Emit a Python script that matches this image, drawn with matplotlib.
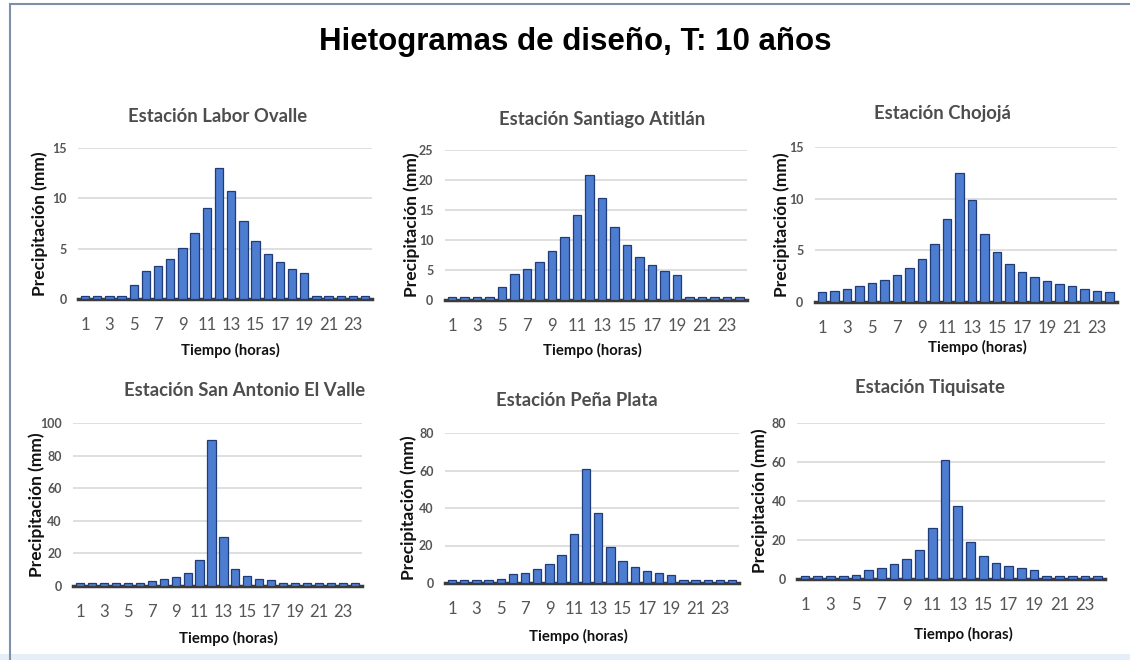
"""
Hietogramas de diseño, T: 10 años - seis estaciones
"""
import numpy as np
import matplotlib
matplotlib.use("Agg")
import matplotlib.pyplot as plt
from matplotlib.lines import Line2D
from matplotlib.patches import Rectangle

W, H = 1130, 660

horas = list(range(1, 25))

estaciones = ["Estación Labor Ovalle", "Estación Santiago Atitlán", "Estación Chojojá",
              "Estación San Antonio El Valle", "Estación Peña Plata", "Estación Tiquisate"]

labor_ovalle = [0.3, 0.3, 0.3, 0.3, 1.4, 2.8, 3.3, 4.0, 5.1, 6.6, 9.0, 13.0,
                10.7, 7.7, 5.8, 4.5, 3.7, 3.0, 2.6, 0.3, 0.3, 0.3, 0.3, 0.3]
santiago_atitlan = [0.5, 0.5, 0.5, 0.5, 2.2, 4.4, 5.2, 6.4, 8.1, 10.5, 14.2, 20.8,
                    17.0, 12.1, 9.1, 7.2, 5.8, 4.8, 4.1, 0.5, 0.5, 0.5, 0.5, 0.5]
chojoja = [1.0, 1.1, 1.3, 1.5, 1.8, 2.1, 2.6, 3.3, 4.2, 5.6, 8.0, 12.5,
           9.9, 6.6, 4.8, 3.7, 2.9, 2.4, 2.0, 1.7, 1.5, 1.3, 1.1, 1.0]
san_antonio = [1.8, 1.8, 1.8, 1.8, 1.8, 1.8, 3.0, 4.2, 5.3, 7.8, 16.0, 89.5,
               30.0, 10.5, 6.2, 4.5, 3.8, 1.8, 1.8, 1.8, 1.8, 1.8, 1.8, 1.8]
pena_plata = [1.5, 1.5, 1.5, 1.5, 2.2, 4.7, 5.6, 7.5, 10.2, 15.0, 26.0, 61.0,
              37.5, 19.0, 12.0, 8.4, 6.5, 5.5, 4.5, 1.5, 1.5, 1.5, 1.5, 1.5]
tiquisate = [1.5, 1.5, 1.5, 1.5, 2.2, 4.7, 5.6, 7.5, 10.2, 15.0, 26.0, 61.0,
             37.5, 19.0, 12.0, 8.4, 6.5, 5.5, 4.5, 1.5, 1.5, 1.5, 1.5, 1.5]

series = [labor_ovalle, santiago_atitlan, chojoja, san_antonio, pena_plata, tiquisate]
y_max = [15, 25, 15, 100, 80, 80]
y_step = [5, 5, 5, 20, 20, 20]

# posiciones en pixeles: x tick 1, x tick 23, y del maximo, y del cero
layout = [
    dict(x1=85, x23=353, ytop=148, ybot=299, title=(218, 116), xlab=(230, 350), ylab=40),
    dict(x1=452, x23=727, ytop=150, ybot=300, title=(602, 119), xlab=(592, 350), ylab=412),
    dict(x1=822, x23=1097, ytop=147, ybot=302, title=(942, 114), xlab=(977, 347), ylab=782),
    dict(x1=80, x23=343, ytop=423, ybot=586, title=(245, 390), xlab=(228, 638), ylab=37),
    dict(x1=452, x23=720, ytop=433, ybot=583, title=(577, 401), xlab=(578, 636), ylab=409),
    dict(x1=805, x23=1085, ytop=423, ybot=579, title=(930, 388), xlab=(963, 634), ylab=760),
]

FONT = ['Lato', 'DejaVu Sans']
GRIS = '#595959'

fig = plt.figure(figsize=(W / 100, H / 100), dpi=100)
fig.patch.set_facecolor('white')

# marco de la imagen
fig.add_artist(Line2D([10 / W, 10 / W], [0, 1 - 4 / H], color='#7f8fa8', lw=1.5))
fig.add_artist(Line2D([10 / W, 1], [1 - 4 / H, 1 - 4 / H], color='#7f8fa8', lw=1.5))
fig.add_artist(Rectangle((0, 0), 1, 6 / H, transform=fig.transFigure, color='#e6eef7', lw=0))

fig.text(575 / W, 1 - 42 / H, "Hietogramas de diseño, T: 10 años", ha='center', va='center',
         fontsize=22.5, fontweight='bold', family=['Liberation Sans', 'DejaVu Sans'])

for i, datos in enumerate(series):
    L = layout[i]
    s = (L['x23'] - L['x1']) / 22.0
    left = L['x1'] - 0.6 * s
    right = L['x23'] + 1.6 * s
    ax = fig.add_axes([left / W, 1 - L['ybot'] / H, (right - left) / W, (L['ybot'] - L['ytop']) / H])

    ax.set_xlim(0.4, 24.6)
    ax.set_ylim(0, y_max[i])
    ax.set_yticks(np.arange(0, y_max[i] + 1, y_step[i]))
    ax.yaxis.grid(True, color='#d9d9d9', lw=1.2)
    ax.set_axisbelow(True)

    # piso del grafico
    ax.axhline(0, color='#3b3b3b', lw=2.5, zorder=2, clip_on=False)
    ax.bar(horas, datos, width=0.68, color='#4d7dd1', edgecolor='#1f3c78', linewidth=0.9, zorder=3)

    ax.set_xticks(horas[::2])
    ax.set_xticklabels([str(h) for h in horas[::2]])
    for side in ['top', 'right', 'left', 'bottom']:
        ax.spines[side].set_visible(False)
    ax.tick_params(axis='both', length=0)
    ax.tick_params(axis='x', labelsize=12, labelcolor='#555555', pad=13)
    ax.tick_params(axis='y', labelsize=9, labelcolor='#555555', pad=8)
    for lab in ax.get_xticklabels() + ax.get_yticklabels():
        lab.set_family(FONT)
    for lab in ax.get_yticklabels():
        lab.set_fontweight('bold')

    fig.text(L['title'][0] / W, 1 - L['title'][1] / H, estaciones[i], ha='center', va='center',
             fontsize=13.3, fontweight='bold', color='#4d4d4d', family=FONT)
    fig.text(L['xlab'][0] / W, 1 - L['xlab'][1] / H, "Tiempo (horas)", ha='center', va='center',
             fontsize=10.7, fontweight='bold', color='#111111', family=FONT)
    fig.text(L['ylab'] / W, 1 - (L['ytop'] + L['ybot']) / 2 / H, "Precipitación (mm)", ha='center',
             va='center', rotation=90, fontsize=12.5, fontweight='bold', color='#111111', family=FONT)

fig.savefig('out.png', dpi=100)
